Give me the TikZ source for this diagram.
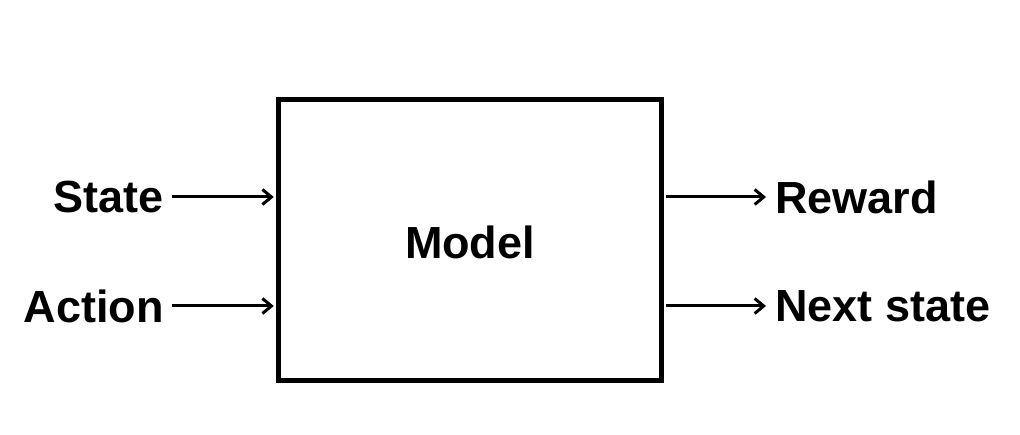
\documentclass[tikz,border=0pt]{standalone}
\usepackage{fontspec}
\setmainfont{Liberation Sans}
\usetikzlibrary{arrows.meta}
\begin{document}
\begin{tikzpicture}[x=1pt,y=1pt,
  lbl/.style={inner sep=0pt,font=\fontsize{45}{50}\selectfont\bfseries},
  conn/.style={line width=3pt,-{Straight Barb[length=9pt,width=15pt,line width=3pt]}},
  modelbox/.style={draw,line width=5.5pt,minimum width=383pt,minimum height=281pt,inner sep=0pt}]
\useasboundingbox (0,0) rectangle (1020,434);
\node[modelbox] (model) at (470,194) {};
\node[lbl] (mtext) at (470,192) {Model};
\node[lbl,anchor=east] (state) at (164,237) {State};
\node[lbl,anchor=east] (action) at (164,128) {Action};
\node[lbl,anchor=west] (reward) at (775,237) {Reward};
\node[lbl,anchor=west] (next) at (775,128) {Next state};
\draw[conn,shorten <=8pt,shorten >=2pt] (state.east) -- (state -| model.west);
\draw[conn,shorten <=8pt,shorten >=2pt] (action.east) -- (action -| model.west);
\draw[conn,shorten <=2pt,shorten >=9pt] (reward -| model.east) -- (reward.west);
\draw[conn,shorten <=2pt,shorten >=9pt] (next -| model.east) -- (next.west);
\end{tikzpicture}
\end{document}
